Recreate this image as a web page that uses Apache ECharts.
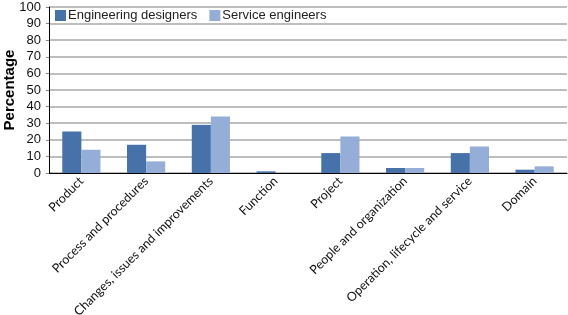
<!DOCTYPE html>
<html>
<head>
<meta charset="utf-8">
<script src="https://cdn.jsdelivr.net/npm/echarts@6/dist/echarts.min.js"></script>
<style>
  html, body { margin: 0; padding: 0; background: #fff; }
  #chart { width: 568px; height: 315px; }
</style>
</head>
<body>
<div id="chart"></div>
<script>
// 类别和两组数据
var categories = ['Product', 'Process and procedures', 'Changes, issues and improvements', 'Function',
  'Project', 'People and organization', 'Operation, lifecycle and service', 'Domain'];
var engineeringDesigners = [25, 17, 29, 1, 12, 3, 12, 2];
var serviceEngineers = [14, 7, 34, 0, 22, 3, 16, 4];
var yTicks = { min: 0, max: 100, interval: 10 };

var myChart = echarts.init(document.getElementById('chart'));
myChart.setOption({
  animation: false,
  grid: { left: 49, right: 1, top: 7, bottom: 142, containLabel: false, outerBoundsMode: 'none' },
  legend: {
    left: 53, top: 8,
    itemWidth: 11, itemHeight: 11, itemGap: 12,
    icon: 'rect',
    padding: [1, 2],
    textStyle: { fontFamily: 'Liberation Sans', fontSize: 13, color: '#222', padding: [0, 0, 0, -3] },
    data: ['Engineering designers', 'Service engineers']
  },
  xAxis: {
    type: 'category',
    data: categories,
    axisLine: { lineStyle: { color: '#000', width: 1 } },
    axisTick: { show: false },
    axisLabel: {
      interval: 0,
      rotate: 45,
      margin: 6,
      fontFamily: 'Lato',
      fontSize: 12.5,
      color: '#111'
    }
  },
  yAxis: {
    type: 'value',
    min: yTicks.min, max: yTicks.max, interval: yTicks.interval,
    name: 'Percentage',
    nameLocation: 'middle',
    nameGap: 32,
    nameMoveOverlap: false,
    nameTextStyle: { fontFamily: 'Liberation Sans', fontSize: 15, fontWeight: 'bold', color: '#000' },
    axisLine: { show: true, lineStyle: { color: '#000' } },
    axisTick: { show: true, length: 3, lineStyle: { color: '#888' } },
    splitLine: { lineStyle: { color: '#a8a8a8', width: 1.5 } },
    axisLabel: { fontFamily: 'Liberation Sans', fontSize: 13, color: '#111', margin: 8 }
  },
  series: [
    {
      name: 'Engineering designers',
      type: 'bar',
      barGap: '0',
      barCategoryGap: '41%',
      itemStyle: { color: '#4772a9' },
      data: engineeringDesigners
    },
    {
      name: 'Service engineers',
      type: 'bar',
      barGap: '0',
      barCategoryGap: '41%',
      itemStyle: { color: '#95aed7' },
      data: serviceEngineers
    }
  ]
});
</script>
</body>
</html>
